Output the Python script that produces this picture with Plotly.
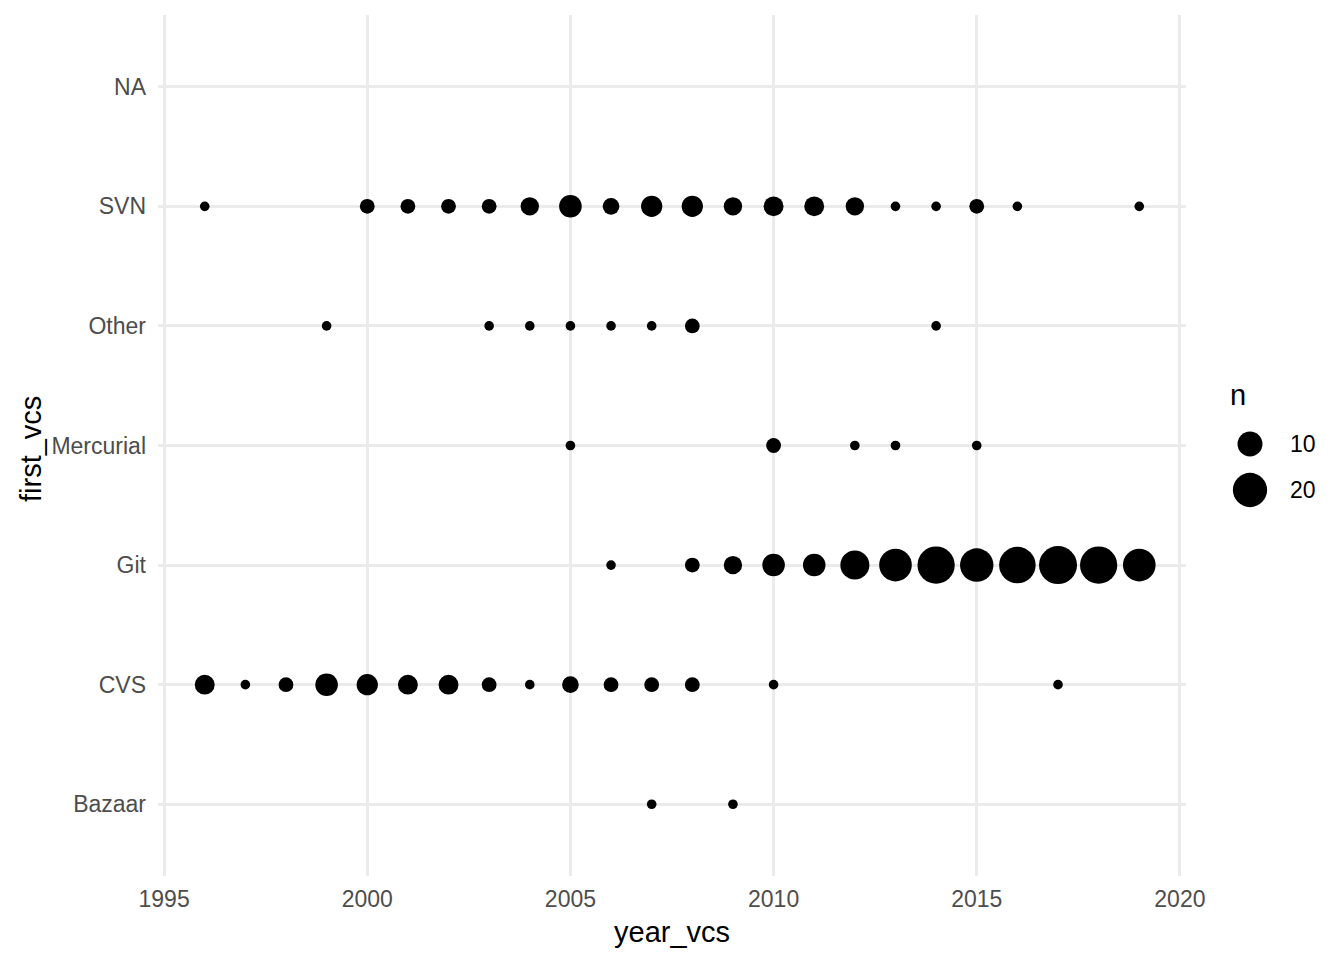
import numpy as np
import plotly.graph_objects as go

# ---------------- data ----------------
categories = ["Bazaar", "CVS", "Git", "Mercurial", "Other", "SVN", "NA"]

bazaar_years = [2007, 2009]
bazaar_n = [1, 1]

cvs_years = [1996, 1997, 1998, 1999, 2000, 2001, 2002, 2003, 2004, 2005, 2006, 2007, 2008, 2010, 2017]
cvs_n = [6, 1, 3, 8, 7, 6, 6, 3, 1, 4, 3, 3, 3, 1, 1]

git_years = [2006, 2008, 2009, 2010, 2011, 2012, 2013, 2014, 2015, 2016, 2017, 2018, 2019]
git_n = [1, 3, 5, 8, 8, 14, 18, 24, 19, 23, 25, 24, 18]

mercurial_years = [2005, 2010, 2012, 2013, 2015]
mercurial_n = [1, 3, 1, 1, 1]

other_years = [1999, 2003, 2004, 2005, 2006, 2007, 2008, 2014]
other_n = [1, 1, 1, 1, 1, 1, 3, 1]

svn_years = [1996, 2000, 2001, 2002, 2003, 2004, 2005, 2006, 2007, 2008, 2009, 2010,
             2011, 2012, 2013, 2014, 2015, 2016, 2019]
svn_n = [1, 3, 3, 3, 3, 5, 8, 4, 7, 7, 5, 6, 6, 5, 1, 1, 3, 1, 1]

x_ticks = [1995, 2000, 2005, 2010, 2015, 2020]
legend_breaks = [10, 20]

series = {
    "Bazaar": (bazaar_years, bazaar_n),
    "CVS": (cvs_years, cvs_n),
    "Git": (git_years, git_n),
    "Mercurial": (mercurial_years, mercurial_n),
    "Other": (other_years, other_n),
    "SVN": (svn_years, svn_n),
}

# ---------------- style ----------------
W, H = 1344, 960
P_LEFT, P_RIGHT, P_TOP, P_BOTTOM = 158, 1186, 15, 876
FONT = "Liberation Sans, Arial, Helvetica, sans-serif"
GRID = "#EBEBEB"
TICKCOL = "#4D4D4D"


def size_px(n):
    return 2.5 + 7.1 * np.sqrt(np.asarray(n, dtype=float))


fig = go.Figure()

xs, ys, ns = [], [], []
for cat, (yrs, nv) in series.items():
    idx = categories.index(cat)
    xs += list(yrs)
    ys += [idx] * len(yrs)
    ns += list(nv)

fig.add_trace(go.Scatter(
    x=xs, y=ys, mode="markers",
    marker=dict(color="black", size=size_px(ns), line=dict(width=0), opacity=1),
    showlegend=False, hoverinfo="skip", cliponaxis=False,
))

# size legend drawn on a small helper subplot (pixel units)
leg_y0, leg_dy = 444, 46
leg_ys = [leg_y0 + i * leg_dy for i in range(len(legend_breaks))]
fig.add_trace(go.Scatter(
    x=[1250] * len(legend_breaks), y=leg_ys, mode="markers",
    marker=dict(color="black", size=size_px(legend_breaks), line=dict(width=0), opacity=1),
    xaxis="x2", yaxis="y2", showlegend=False, hoverinfo="skip", cliponaxis=False,
))

annotations = []
for b, yy in zip(legend_breaks, leg_ys):
    annotations.append(dict(x=1288, y=yy, xref="x2", yref="y2", text=str(b),
                            showarrow=False, xanchor="left", yanchor="middle",
                            font=dict(family=FONT, size=23, color="black")))
annotations.append(dict(x=1228, y=395, xref="x2", yref="y2", text="n",
                        showarrow=False, xanchor="left", yanchor="middle",
                        font=dict(family=FONT, size=29, color="black")))
# axis titles
annotations.append(dict(x=(P_LEFT + P_RIGHT) / 2 / W, y=(H - 932) / H, xref="paper", yref="paper",
                        text="year_vcs", showarrow=False, xanchor="center", yanchor="middle",
                        font=dict(family=FONT, size=29, color="black")))
annotations.append(dict(x=31 / W, y=(H - 449) / H, xref="paper", yref="paper",
                        text="first_vcs", showarrow=False, xanchor="center", yanchor="middle",
                        textangle=-90, font=dict(family=FONT, size=29, color="black")))

fig.update_layout(
    width=W, height=H,
    margin=dict(l=0, r=0, t=0, b=0, pad=0),
    paper_bgcolor="white", plot_bgcolor="white",
    font=dict(family=FONT, color=TICKCOL, size=23),
    xaxis=dict(
        domain=[P_LEFT / W, P_RIGHT / W], range=[1994.85, 2020.15],
        tickvals=x_ticks, ticktext=[str(t) for t in x_ticks],
        showgrid=True, gridcolor=GRID, gridwidth=2.5, zeroline=False,
        showline=False, ticks="", ticklabelstandoff=7,
        tickfont=dict(family=FONT, size=23, color=TICKCOL),
        automargin=False, anchor="y", fixedrange=True,
    ),
    yaxis=dict(
        domain=[(H - P_BOTTOM) / H, (H - P_TOP) / H], range=[-0.6, len(categories) - 0.4],
        tickvals=list(range(len(categories))), ticktext=categories,
        showgrid=True, gridcolor=GRID, gridwidth=2.5, zeroline=False,
        showline=False, ticks="", ticklabelstandoff=11,
        tickfont=dict(family=FONT, size=23, color=TICKCOL),
        automargin=False, anchor="x", fixedrange=True,
    ),
    xaxis2=dict(domain=[1200 / W, 1340 / W], range=[1200, 1340], visible=False,
                showgrid=False, zeroline=False, anchor="y2", fixedrange=True),
    yaxis2=dict(domain=[420 / H, 590 / H], range=[540, 370], visible=False,
                showgrid=False, zeroline=False, anchor="x2", fixedrange=True),
    annotations=annotations,
)

fig.write_html("out.html", config={"displayModeBar": False},
               post_script="document.body.style.margin='0';")
